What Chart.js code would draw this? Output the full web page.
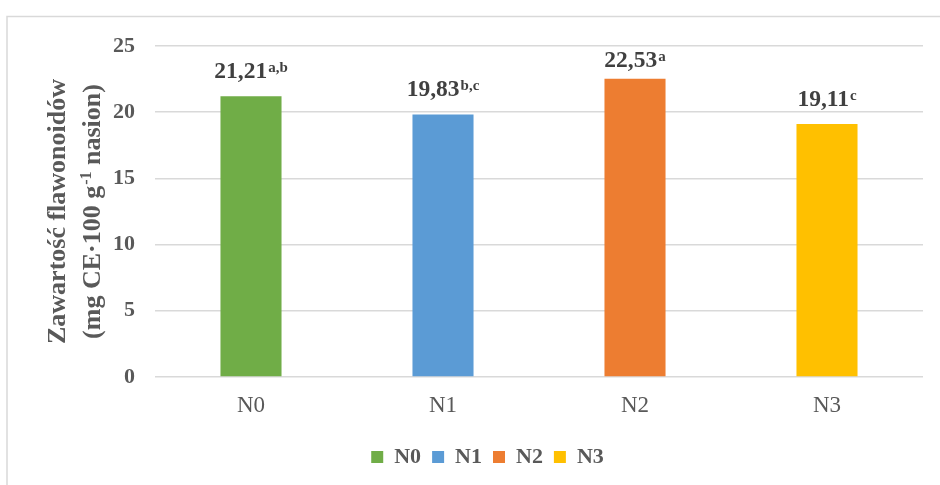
<!DOCTYPE html>
<html><head><meta charset="utf-8">
<script src="https://cdn.jsdelivr.net/npm/chart.js@4"></script>
<style>html,body{margin:0;padding:0;background:#fff;}#wrap{position:relative;width:940px;height:485px;}</style>
</head><body><div id="wrap"><canvas id="c" width="940" height="485"></canvas></div>
<script>
const categories = ['N0', 'N1', 'N2', 'N3'];
const values = [21.21, 19.83, 22.53, 19.11];
const groupLetters = ['a,b', 'b,c', 'a', 'c'];
const colors = ['#70AD47', '#5B9BD5', '#ED7D31', '#FFC000'];
const yTicks = [0, 5, 10, 15, 20, 25];
const yTitleLine1 = 'Zawartość flawonoidów';
const yTitleLine2 = ['(mg CE·100 g', '-1', ' nasion)'];

const FONT = '"Liberation Serif", "Times New Roman", serif';
const TEXT = '#595959';

const framePlugin = {
  id: 'frame',
  beforeDraw(chart) {
    const ctx = chart.ctx;
    ctx.save();
    ctx.strokeStyle = '#D9D9D9';
    ctx.lineWidth = 1.5;
    ctx.strokeRect(7, 16.5, 1000, 1000);
    ctx.restore();
  }
};

const valueLabelPlugin = {
  id: 'valueLabels',
  afterDatasetsDraw(chart) {
    const ctx = chart.ctx;
    const area = chart.chartArea;
    const meta = chart.getDatasetMeta(0);
    meta.data.forEach((bar, i) => {
      const main = values[i].toFixed(2).replace('.', ',');
      const sup = groupLetters[i];
      ctx.save();
      ctx.font = 'bold 23.5px ' + FONT;
      const w1 = ctx.measureText(main).width;
      ctx.font = 'bold 15px ' + FONT;
      const w2 = ctx.measureText(sup).width;
      const total = w1 + 1 + w2;
      const base = Math.max(bar.y - 18, area.top + 21);
      const x0 = bar.x - total / 2;
      ctx.fillStyle = '#404040';
      ctx.textAlign = 'left';
      ctx.textBaseline = 'alphabetic';
      ctx.font = 'bold 23.5px ' + FONT;
      ctx.fillText(main, x0, base);
      ctx.font = 'bold 15px ' + FONT;
      ctx.fillText(sup, x0 + w1 + 1, base - 6);
      ctx.restore();
    });
  }
};

const yTitlePlugin = {
  id: 'yTitle',
  afterDraw(chart) {
    const ctx = chart.ctx;
    const area = chart.chartArea;
    const cy = (area.top + area.bottom) / 2;
    const big = 'bold 26px ' + FONT;
    const small = 'bold 16px ' + FONT;
    ctx.save();
    ctx.fillStyle = TEXT;
    ctx.textBaseline = 'alphabetic';
    ctx.textAlign = 'left';
    ctx.save();
    ctx.translate(65, cy);
    ctx.rotate(-Math.PI / 2);
    ctx.font = big;
    const w = ctx.measureText(yTitleLine1).width;
    ctx.fillText(yTitleLine1, -w / 2, 0);
    ctx.restore();
    ctx.save();
    ctx.translate(100, cy);
    ctx.rotate(-Math.PI / 2);
    ctx.font = big;
    const a = ctx.measureText(yTitleLine2[0]).width;
    const c = ctx.measureText(yTitleLine2[2]).width;
    ctx.font = small;
    const b = ctx.measureText(yTitleLine2[1]).width;
    const tot = a + b + c + 1;
    let x = -tot / 2;
    ctx.font = big;
    ctx.fillText(yTitleLine2[0], x, 0);
    x += a + 1;
    ctx.font = small;
    ctx.fillText(yTitleLine2[1], x, -9);
    x += b;
    ctx.font = big;
    ctx.fillText(yTitleLine2[2], x, 0);
    ctx.restore();
    ctx.restore();
  }
};

new Chart(document.getElementById('c'), {
  type: 'bar',
  data: {
    labels: categories,
    datasets: [{
      label: 'values',
      data: values,
      backgroundColor: colors,
      borderWidth: 0,
      categoryPercentage: 1,
      barPercentage: 0.318
    }]
  },
  options: {
    responsive: false,
    animation: false,
    layout: { padding: { left: 35, right: 0, top: 46, bottom: 7 } },
    plugins: {
      tooltip: { enabled: false },
      legend: {
        position: 'bottom',
        labels: {
          boxWidth: 12,
          boxHeight: 12,
          padding: 11,
          color: TEXT,
          font: { family: FONT, size: 22, weight: 'bold' },
          generateLabels() {
            return categories.map((c, i) => ({
              text: c, fillStyle: colors[i], strokeStyle: colors[i],
              lineWidth: 0, hidden: false, index: i, fontColor: TEXT
            }));
          }
        }
      }
    },
    scales: {
      x: {
        grid: { display: false },
        border: { display: false },
        ticks: { color: TEXT, padding: 7, font: { family: FONT, size: 23 } },
        afterFit(s) { s.height = 58; }
      },
      y: {
        min: 0, max: 25,
        afterBuildTicks(s) { s.ticks = yTicks.map(v => ({ value: v })); },
        grid: { color: '#D9D9D9', lineWidth: 1.5, drawTicks: false },
        border: { display: false },
        ticks: { color: TEXT, padding: 20, font: { family: FONT, size: 22, weight: 'bold' } },
        afterFit(s) { s.width = 120; }
      },
      yRight: {
        position: 'right',
        display: true,
        min: 0, max: 25,
        grid: { display: false, drawTicks: false },
        border: { display: false },
        ticks: { display: false },
        afterFit(s) { s.width = 17; }
      }
    }
  },
  plugins: [framePlugin, valueLabelPlugin, yTitlePlugin]
});
</script></body></html>
